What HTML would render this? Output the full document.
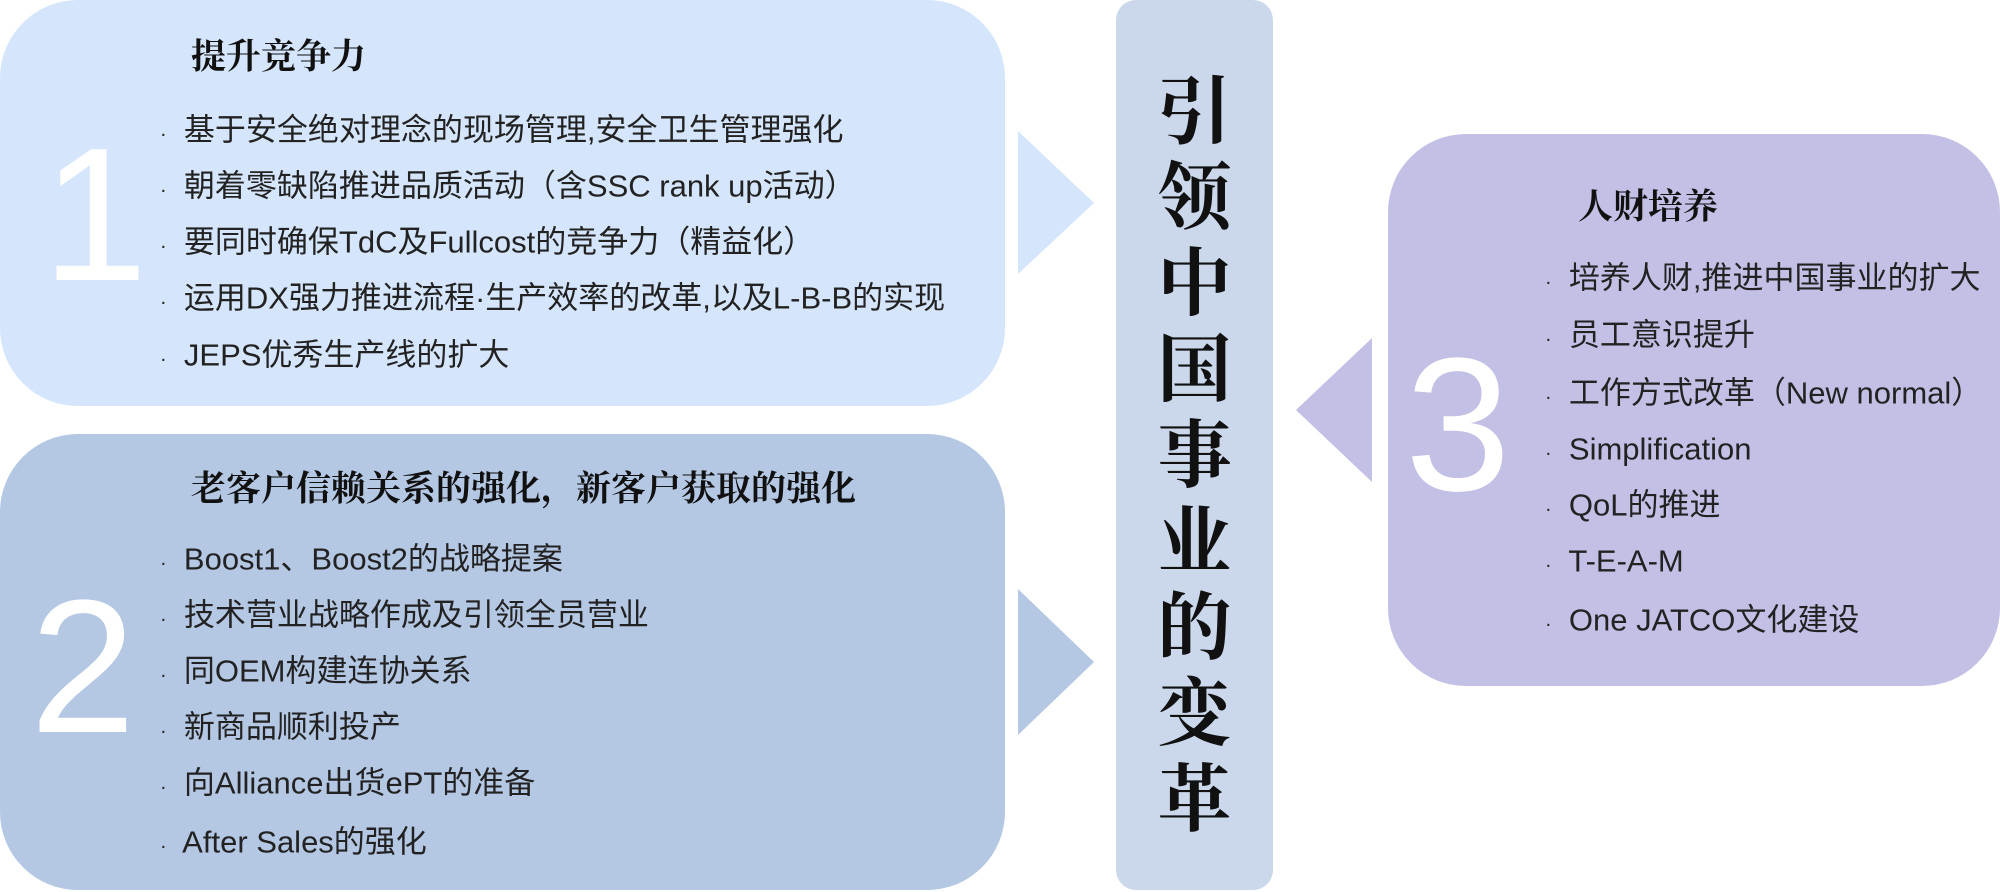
<!DOCTYPE html>
<html><head><meta charset="utf-8"><style>
body{margin:0;width:2000px;height:892px;background:#fff;position:relative;overflow:hidden;font-family:"Liberation Sans","Noto Sans CJK SC",sans-serif;color:#222}
.box{position:absolute;border-radius:78px}
.t{position:absolute;white-space:nowrap;line-height:1;transform:translateY(-50%)}
.ttl{font-family:"Liberation Serif","Noto Serif CJK SC",serif;font-weight:bold;font-size:35px;color:#111}
.b{font-size:31px;color:#222;letter-spacing:0px}
.d{font-size:20px}
.num{position:absolute;color:#fff;font-family:"Liberation Sans",sans-serif;font-size:190px;line-height:1}
.v{position:absolute;left:1116px;width:157px;text-align:center;font-family:"Liberation Serif","Noto Serif CJK SC",serif;font-weight:bold;font-size:74px;line-height:1;color:#111}
</style></head><body>
<div class="box" style="left:0;top:0;width:1005px;height:406px;background:#d5e5fb"></div>
<div class="box" style="left:0;top:434px;width:1005px;height:456px;background:#b4c7e3"></div>
<div class="box" style="left:1116px;top:0;width:157px;height:890px;border-radius:20px;background:#cbd8ec"></div>
<div class="box" style="left:1388px;top:134px;width:612px;height:552px;background:#c3c0e6"></div>
<svg style="position:absolute;left:0;top:0" width="2000" height="892">
<polygon points="1018,131 1094,203 1018,274" fill="#d5e5fb"/>
<polygon points="1018,589 1094,662 1018,735" fill="#b4c7e3"/>
<polygon points="1372,338 1296,410 1372,482" fill="#c3c0e6"/>
</svg>
<div class="num" style="left:42px;top:120px">1</div>
<div class="num" style="left:30px;top:572px">2</div>
<div class="num" style="left:1405px;top:330px">3</div>

<div class="t ttl" style="left:191px;top:57px">提升竞争力</div>
<div class="t b" style="left:160px;top:130px"><span class="d">·</span>&nbsp; 基于安全绝对理念的现场管理,安全卫生管理强化</div>
<div class="t b" style="left:160px;top:186px"><span class="d">·</span>&nbsp; 朝着零缺陷推进品质活动（含SSC rank up活动）</div>
<div class="t b" style="left:160px;top:242px"><span class="d">·</span>&nbsp; 要同时确保TdC及Fullcost的竞争力（精益化）</div>
<div class="t b" style="left:160px;top:298px"><span class="d">·</span>&nbsp; 运用DX强力推进流程·生产效率的改革,以及L-B-B的实现</div>
<div class="t b" style="left:160px;top:355px"><span class="d">·</span>&nbsp; JEPS优秀生产线的扩大</div>

<div class="t ttl" style="left:191px;top:489px">老客户信赖关系的强化，新客户获取的强化</div>
<div class="t b" style="left:160px;top:559px"><span class="d">·</span>&nbsp; Boost1、Boost2的战略提案</div>
<div class="t b" style="left:160px;top:615px"><span class="d">·</span>&nbsp; 技术营业战略作成及引领全员营业</div>
<div class="t b" style="left:160px;top:671px"><span class="d">·</span>&nbsp; 同OEM构建连协关系</div>
<div class="t b" style="left:160px;top:727px"><span class="d">·</span>&nbsp; 新商品顺利投产</div>
<div class="t b" style="left:160px;top:783px"><span class="d">·</span>&nbsp; 向Alliance出货ePT的准备</div>
<div class="t b" style="left:160px;top:842px"><span class="d">·</span>&nbsp; After Sales的强化</div>

<div class="t ttl" style="left:1578px;top:207px">人财培养</div>
<div class="t b" style="left:1545px;top:278px"><span class="d">·</span>&nbsp; 培养人财,推进中国事业的扩大</div>
<div class="t b" style="left:1545px;top:335px"><span class="d">·</span>&nbsp; 员工意识提升</div>
<div class="t b" style="left:1545px;top:393px"><span class="d">·</span>&nbsp; 工作方式改革（New normal）</div>
<div class="t b" style="left:1545px;top:449px"><span class="d">·</span>&nbsp; Simplification</div>
<div class="t b" style="left:1545px;top:505px"><span class="d">·</span>&nbsp; QoL的推进</div>
<div class="t b" style="left:1545px;top:561px"><span class="d">·</span>&nbsp; T-E-A-M</div>
<div class="t b" style="left:1545px;top:620px"><span class="d">·</span>&nbsp; One JATCO文化建设</div>

<div class="v" style="top:76px">引</div>
<div class="v" style="top:162px">领</div>
<div class="v" style="top:248px">中</div>
<div class="v" style="top:334px">国</div>
<div class="v" style="top:420px">事</div>
<div class="v" style="top:506px">业</div>
<div class="v" style="top:592px">的</div>
<div class="v" style="top:678px">变</div>
<div class="v" style="top:764px">革</div>
</body></html>
